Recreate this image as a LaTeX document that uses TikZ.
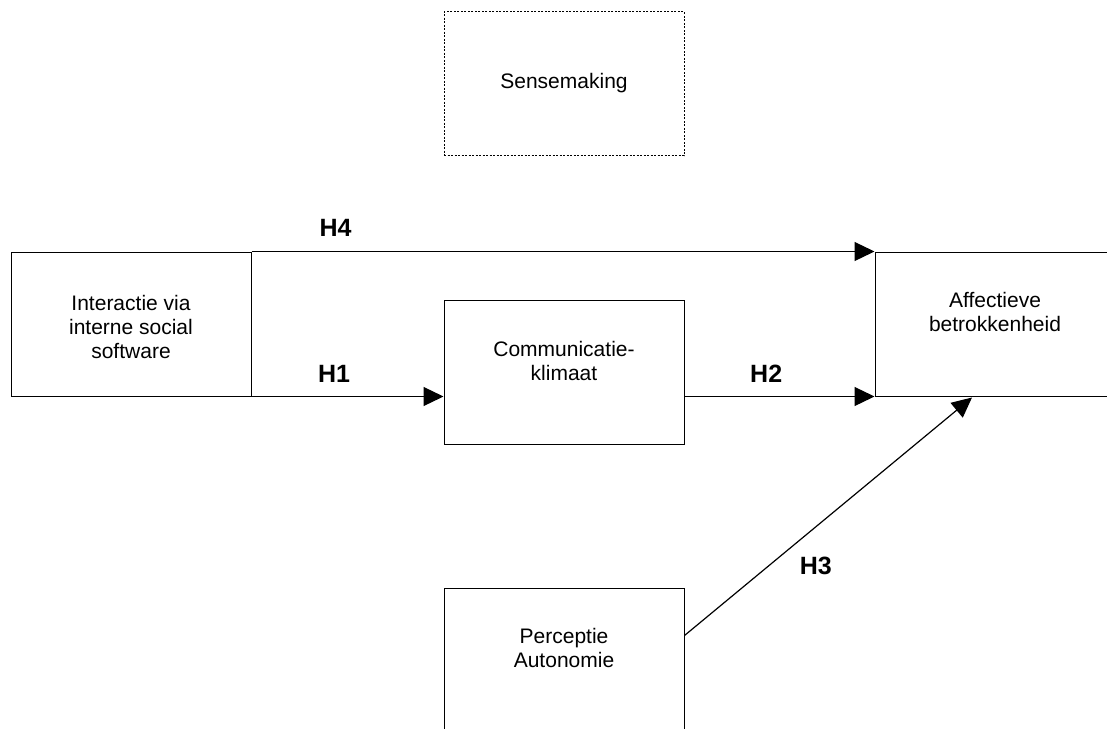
\documentclass[tikz,border=0pt]{standalone}
\usepackage{fontspec}
\setmainfont{Liberation Sans}
\usetikzlibrary{positioning,arrows.meta}
\tikzset{
>={Triangle[length=20pt,width=19pt]},
box/.style={draw, line width=1pt, minimum width=240pt, minimum height=144pt, inner sep=0pt},
dotbox/.style={box, dash pattern=on 2pt off 1.5pt},
boxtext/.style={align=center, font=\fontsize{21}{24}\selectfont},
hlabel/.style={font=\bfseries\fontsize{25}{28}\selectfont},
link/.style={->, line width=1.2pt},
}

\begin{document}
\begin{tikzpicture}[x=1pt,y=-1pt]
    \useasboundingbox (0,0) rectangle (1107,728);

    % boxes
    \node[dotbox] (sens) at (564,83.5) {};
    \node[box] (inter) at (131,324) {};
    \node[box] (comm) at (564,372) {};
    \node[box] (aff) at (995,324) {};
    \node[box] (perc) at (564,660) {};

    % texts
    \node[boxtext] (senstext) at (sens.center) {Sensemaking};
    \node[boxtext] (intertext) at ([yshift=-3pt]inter.center) {Interactie via\\interne social\\software};
    \node[boxtext] (commtext) at ([yshift=11pt]comm.center) {Communicatie-\\klimaat};
    \node[boxtext] (afftext) at ([yshift=12pt]aff.center) {Affectieve\\betrokkenheid};
    \node[boxtext] (perctext) at ([yshift=12pt]perc.center) {Perceptie\\Autonomie};

    % hypotheses
    \draw[link] (inter.north east) -- node[hlabel,pos=0.135,yshift=24pt]{H4} (aff.north west);
    \draw[link] (inter.south east) -- node[hlabel,pos=0.43,yshift=23pt]{H1} (comm.west |- inter.south);
    \draw[link] (comm.east |- aff.south) -- node[hlabel,pos=0.43,yshift=23pt]{H2} (aff.south west);
    \draw[link] ([yshift=-48pt]perc.north east) -- node[hlabel,pos=0.457,yshift=-39pt]{H3} ([xshift=-23pt,yshift=-1pt]aff.south);

\end{tikzpicture}
\end{document}
